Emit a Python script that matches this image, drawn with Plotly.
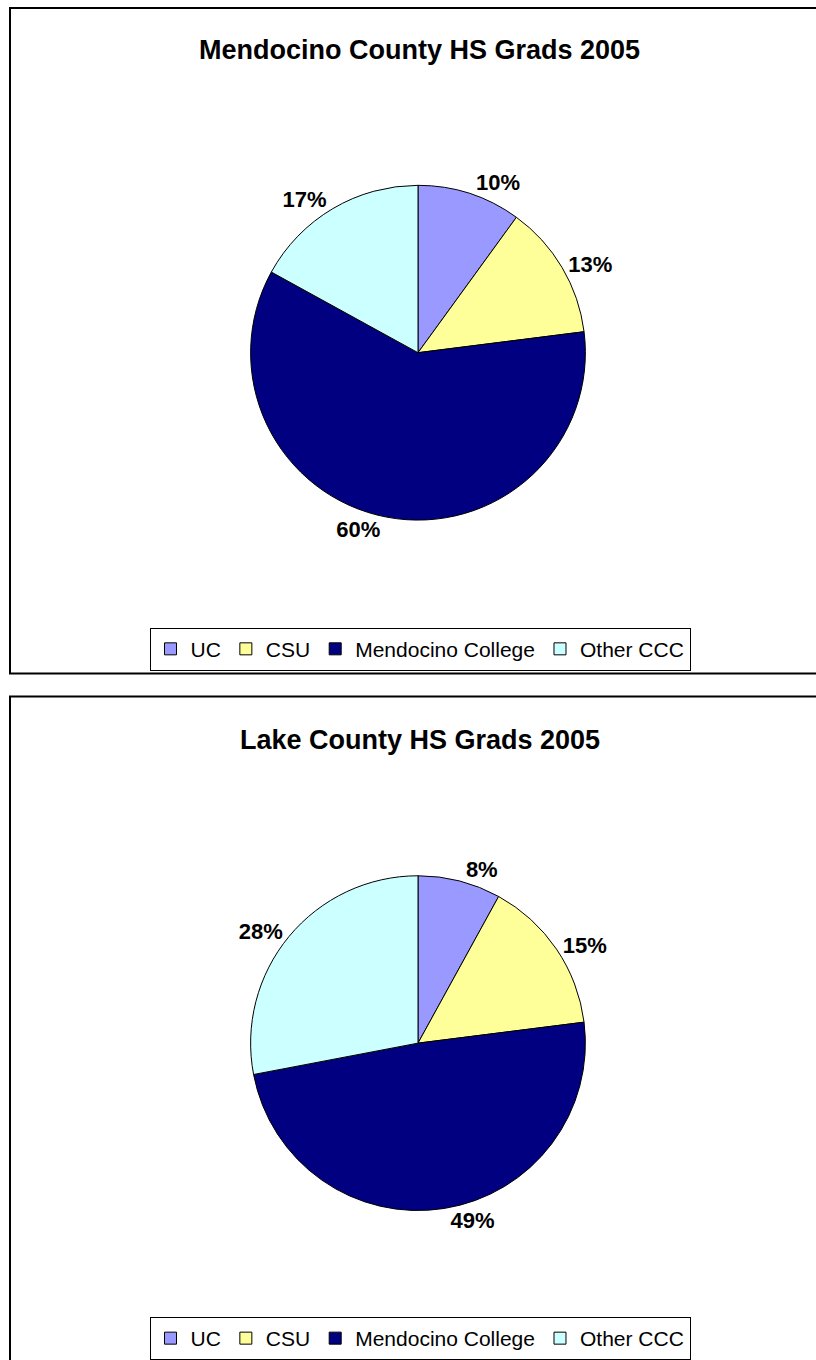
import plotly.graph_objects as go

# ---- data ----
categories = ["UC", "CSU", "Mendocino College", "Other CCC"]
mendocino_values = [10, 13, 60, 17]
lake_values = [8, 15, 49, 28]
titles = ["Mendocino County HS Grads 2005", "Lake County HS Grads 2005"]
colors = ["#9999FF", "#FFFF99", "#000080", "#CCFFFF"]

W, H = 816, 1360
FONT = "Liberation Sans, Arial, sans-serif"


def px_x(x):
    return x / W


def px_y(y):
    return (H - y) / H


def pie_domain(cx, cy, r):
    return dict(x=[px_x(cx - r), px_x(cx + r)], y=[px_y(cy + r), px_y(cy - r)])


fig = go.Figure()

for vals, cy, leg, grp in [(mendocino_values, 354, "legend", "g1"),
                           (lake_values, 1047, "legend2", "g2")]:
    fig.add_trace(go.Pie(
        labels=categories, values=vals, sort=False,
        direction="clockwise", rotation=0,
        marker=dict(colors=colors, line=dict(color="black", width=1)),
        textposition="outside", texttemplate="<b>%{percent:.0%}</b>",
        outsidetextfont=dict(family=FONT, size=22, color="black"),
        domain=pie_domain(418, cy, 168), legend=leg, legendgroup=grp,
        hoverinfo="label+percent",
    ))

legend_common = dict(
    orientation="h", xanchor="center", yanchor="top",
    bgcolor="white", bordercolor="black", borderwidth=1,
    font=dict(family=FONT, size=21, color="black"),
    itemwidth=30, traceorder="normal",
)

fig.update_layout(
    width=W, height=H,
    margin=dict(l=0, r=0, t=0, b=0),
    paper_bgcolor="white", plot_bgcolor="white",
    font=dict(family=FONT, color="black"),
    legend=dict(x=px_x(420), y=px_y(630), **legend_common),
    legend2=dict(x=px_x(420), y=px_y(1322), **legend_common),
    shapes=[
        dict(type="rect", xref="paper", yref="paper",
             x0=px_x(10), x1=px_x(830), y0=px_y(676), y1=px_y(8),
             line=dict(color="black", width=2)),
        dict(type="rect", xref="paper", yref="paper",
             x0=px_x(10), x1=px_x(830), y0=px_y(1380), y1=px_y(699),
             line=dict(color="black", width=2)),
    ],
    annotations=[
        dict(text="<b>%s</b>" % titles[0], x=px_x(420), y=px_y(50),
             xref="paper", yref="paper", showarrow=False,
             xanchor="center", yanchor="middle",
             font=dict(family=FONT, size=27, color="black")),
        dict(text="<b>%s</b>" % titles[1], x=px_x(420), y=px_y(743),
             xref="paper", yref="paper", showarrow=False,
             xanchor="center", yanchor="middle",
             font=dict(family=FONT, size=27, color="black")),
    ],
)

fig.write_html("out.html", config={"displayModeBar": False},
               post_script="document.body.style.margin='0';")
